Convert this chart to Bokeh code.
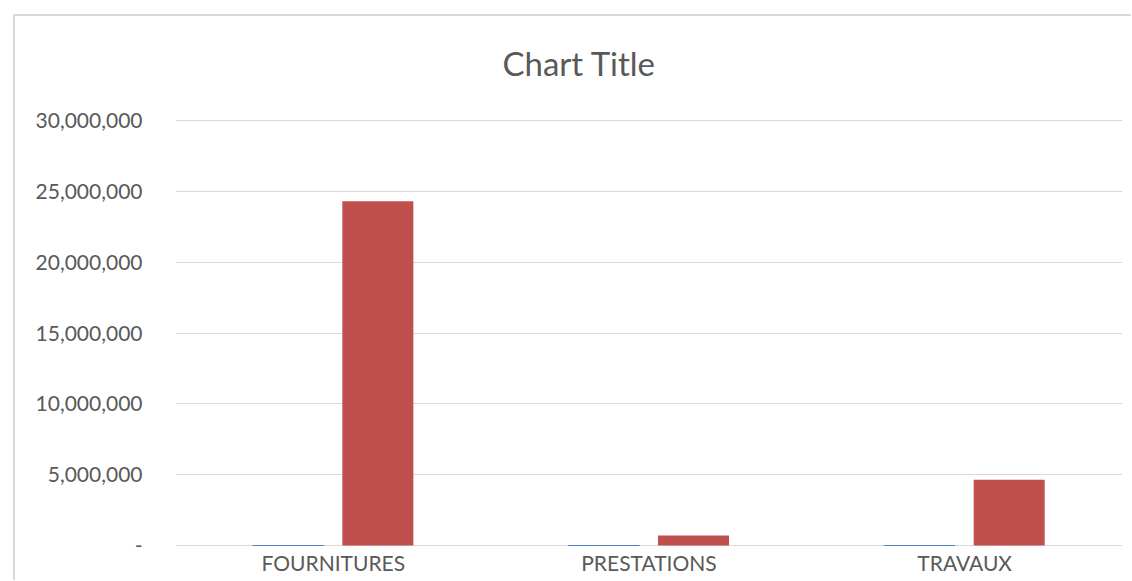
from bokeh.plotting import figure
from bokeh.models import FixedTicker, CustomJSTickFormatter, Range1d, FactorRange, ColumnDataSource, Title
from bokeh.transform import dodge
from bokeh.embed import file_html
from bokeh.resources import INLINE

categories = ["FOURNITURES", "PRESTATIONS", "TRAVAUX"]
series1 = [120, 15, 20]
series2 = [24300000, 700000, 4650000]
y_ticks = [0, 5000000, 10000000, 15000000, 20000000, 25000000, 30000000]
title_text = "Chart Title"

src = ColumnDataSource(dict(cat=categories, s1=series1, s2=series2))

W = 1118
H = 566
px = 5000000 / 71.0
p = figure(x_range=FactorRange(*categories, range_padding=0),
           y_range=Range1d(-px, 30000000 + px),
           width=W, height=H, output_backend="svg", toolbar_location=None,
           min_border_left=160, min_border_right=11, min_border_top=0, min_border_bottom=36,
           margin=(14, 0, 0, 13),
           styles={"border-top": "2px solid #d9d9d9", "border-left": "2px solid #d9d9d9"})

p.vbar(x=dodge("cat", -0.143, range=p.x_range), top="s1", width=0.225, source=src,
       fill_color="#4F81BD", line_color="#4F81BD", line_width=1)
p.vbar(x=dodge("cat", 0.141, range=p.x_range), top="s2", width=0.225, source=src,
       fill_color="#C0504D", line_color=None)

p.title.text = title_text
p.title.align = "left"
p.title.vertical_align = "top"
p.title.text_font = "Lato"
p.title.text_font_size = "33px"
p.title.text_font_style = "normal"
p.title.text_color = "#595959"
p.title.offset = 327
p.title.standoff = 52

spacer = Title(text=".", text_font_size="1px", text_color="white", standoff=6)
p.add_layout(spacer, "above")

p.outline_line_color = None
p.xgrid.grid_line_color = None
p.ygrid.grid_line_color = "#d9d9d9"
p.ygrid.grid_line_width = 1

p.yaxis.ticker = FixedTicker(ticks=y_ticks)
p.yaxis.formatter = CustomJSTickFormatter(code="return tick == 0 ? '-' : tick.toLocaleString('en-US');")
p.yaxis.axis_line_color = None
p.yaxis.major_tick_line_color = None
p.yaxis.minor_tick_line_color = None
p.yaxis.major_tick_out = 0
p.yaxis.major_tick_in = 0
p.yaxis.major_label_standoff = 33
p.yaxis.major_label_text_font = "Lato"
p.yaxis.major_label_text_font_size = "21px"
p.yaxis.major_label_text_color = "#595959"

p.xaxis.axis_line_color = None
p.xaxis.major_tick_line_color = None
p.xaxis.minor_tick_line_color = None
p.xaxis.major_tick_out = 0
p.xaxis.major_tick_in = 0
p.xaxis.major_label_standoff = 3
p.xaxis.major_label_text_font = "Lato"
p.xaxis.major_label_text_font_size = "21px"
p.xaxis.major_label_text_color = "#595959"

open("out.html", "w").write(file_html(p, INLINE))
